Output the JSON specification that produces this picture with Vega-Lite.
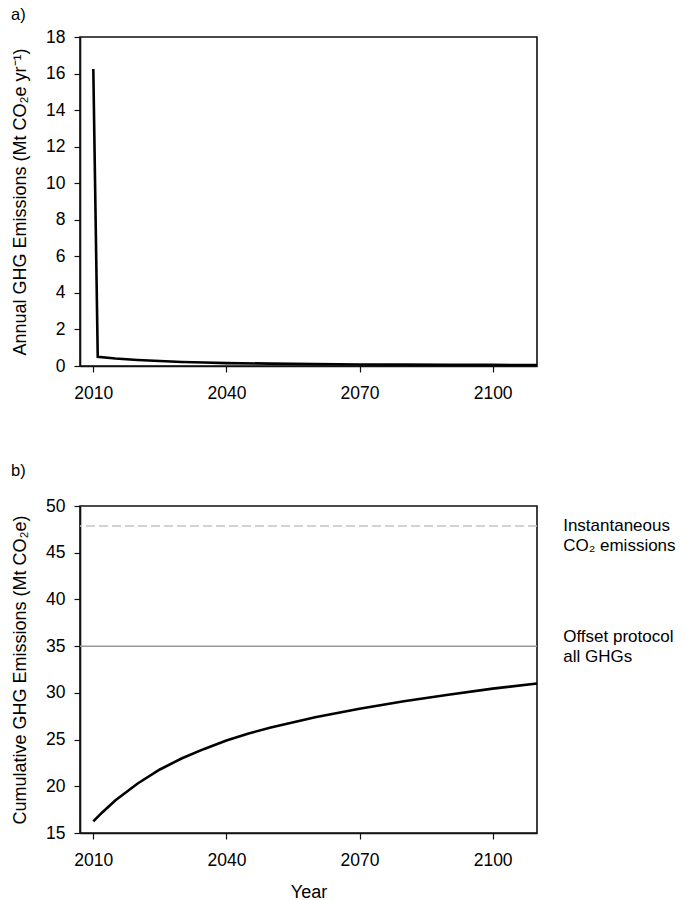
{
  "$schema": "https://vega.github.io/schema/vega-lite/v6.json",
  "padding": {"left": 10, "top": 6, "right": 2, "bottom": 3},
  "background": "white",
  "config": {
    "font": "Liberation Sans",
    "view": {"stroke": "#111", "strokeWidth": 1.6},
    "axis": {"grid": false, "domainColor": "#111", "domainWidth": 1.6, "tickColor": "#111", "tickSize": 6, "tickWidth": 1.2, "labelFontSize": 17.5, "labelColor": "#000", "titleFontSize": 18, "titleFontWeight": "normal", "titleColor": "#000", "labelFont": "Liberation Sans", "titleFont": "Liberation Sans"},
    "axisX": {"labelPadding": 12.5, "titlePadding": 14},
    "axisY": {"labelPadding": 9, "titlePadding": 16.5},
    "title": {"fontSize": 16.5, "fontWeight": "normal", "anchor": "start", "frame": "bounds", "color": "#000", "font": "Liberation Sans"}
  },
  "datasets": {
    "annual": [
      {"year": 2010, "value": 16.25},
      {"year": 2011, "value": 0.5},
      {"year": 2015, "value": 0.41},
      {"year": 2020, "value": 0.33},
      {"year": 2025, "value": 0.27},
      {"year": 2030, "value": 0.22},
      {"year": 2035, "value": 0.19},
      {"year": 2040, "value": 0.16},
      {"year": 2050, "value": 0.13},
      {"year": 2060, "value": 0.1},
      {"year": 2070, "value": 0.085},
      {"year": 2080, "value": 0.075},
      {"year": 2090, "value": 0.065},
      {"year": 2100, "value": 0.06},
      {"year": 2110, "value": 0.055}
    ],
    "cumulative": [
      {"year": 2010, "value": 16.25},
      {"year": 2012, "value": 17.2},
      {"year": 2015, "value": 18.5},
      {"year": 2020, "value": 20.3},
      {"year": 2025, "value": 21.8},
      {"year": 2030, "value": 23.0},
      {"year": 2035, "value": 24.0},
      {"year": 2040, "value": 24.9},
      {"year": 2045, "value": 25.65},
      {"year": 2050, "value": 26.3},
      {"year": 2060, "value": 27.4},
      {"year": 2070, "value": 28.3},
      {"year": 2080, "value": 29.1},
      {"year": 2090, "value": 29.8},
      {"year": 2100, "value": 30.45},
      {"year": 2110, "value": 31.0}
    ],
    "refs": [
      {"kind": "instant", "level": 47.85},
      {"kind": "offset", "level": 35}
    ],
    "notes": [
      {"year": 2115.9, "value": 47.87, "label": "Instantaneous\nCO₂ emissions"},
      {"year": 2115.9, "value": 36.0, "label": "Offset protocol\nall GHGs"}
    ]
  },
  "vconcat": [
    {
      "title": {"text": "a)", "offset": 4.5},
      "width": 457,
      "height": 329,
      "data": {"name": "annual"},
      "mark": {"type": "line", "color": "#000", "strokeWidth": 2.6},
      "encoding": {
        "x": {"field": "year", "type": "quantitative", "scale": {"domain": [2007, 2110], "nice": false, "zero": false}, "axis": {"values": [2010, 2040, 2070, 2100], "format": "d", "title": null}},
        "y": {"field": "value", "type": "quantitative", "scale": {"domain": [0, 18], "nice": false}, "axis": {"values": [0, 2, 4, 6, 8, 10, 12, 14, 16, 18], "title": "Annual GHG Emissions (Mt CO₂e yr⁻¹)"}}
      }
    },
    {
      "title": {"text": "b)", "offset": 18},
      "width": 457,
      "height": 327,
      "layer": [
        {
          "data": {"name": "refs"},
          "transform": [{"filter": "datum.kind == 'instant'"}],
          "mark": {"type": "rule", "color": "#c4c4c4", "strokeWidth": 1.5, "strokeDash": [9, 4]},
          "encoding": {"y": {"field": "level", "type": "quantitative"}}
        },
        {
          "data": {"name": "refs"},
          "transform": [{"filter": "datum.kind == 'offset'"}],
          "mark": {"type": "rule", "color": "#9a9a9a", "strokeWidth": 1.5},
          "encoding": {"y": {"field": "level", "type": "quantitative"}}
        },
        {
          "data": {"name": "cumulative"},
          "mark": {"type": "line", "color": "#000", "strokeWidth": 2.6},
          "encoding": {
            "x": {"field": "year", "type": "quantitative", "scale": {"domain": [2007, 2110], "nice": false, "zero": false}, "axis": {"values": [2010, 2040, 2070, 2100], "format": "d", "title": "Year"}},
            "y": {"field": "value", "type": "quantitative", "scale": {"domain": [15, 50], "nice": false, "zero": false}, "axis": {"values": [15, 20, 25, 30, 35, 40, 45, 50], "title": "Cumulative GHG Emissions (Mt CO₂e)"}}
          }
        },
        {
          "data": {"name": "notes"},
          "mark": {"type": "text", "align": "left", "baseline": "middle", "fontSize": 17, "lineBreak": "\n", "lineHeight": 20, "color": "#000"},
          "encoding": {
            "x": {"field": "year", "type": "quantitative"},
            "y": {"field": "value", "type": "quantitative"},
            "text": {"field": "label", "type": "nominal"}
          }
        }
      ]
    }
  ],
  "spacing": 58
}
